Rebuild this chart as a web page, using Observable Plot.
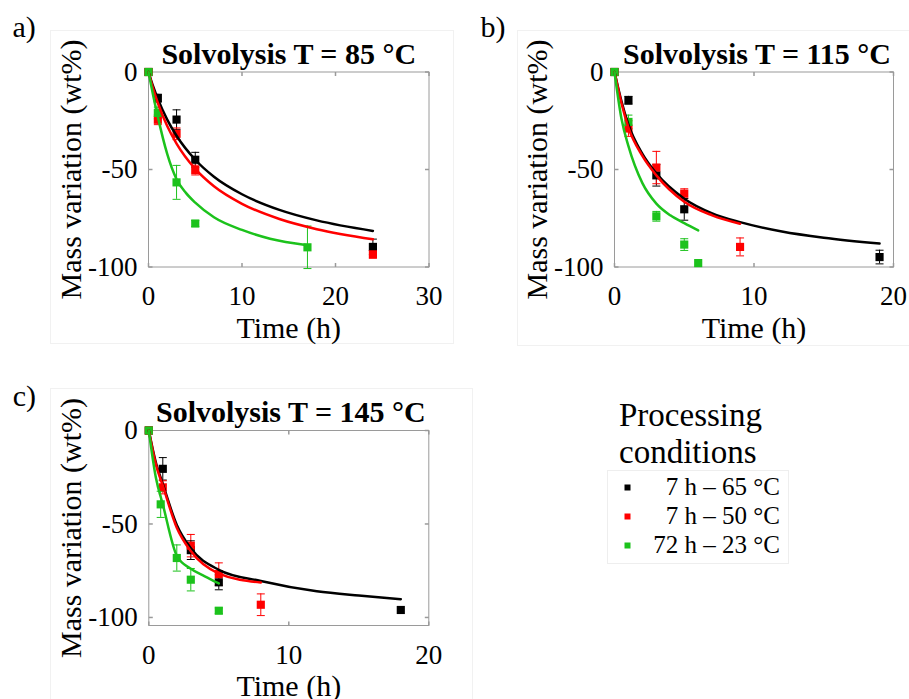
<!DOCTYPE html>
<html><head><meta charset="utf-8">
<script src="https://cdn.jsdelivr.net/npm/d3@7"></script>
<script src="https://cdn.jsdelivr.net/npm/@observablehq/plot@0.6"></script>
<style>
html,body{margin:0;padding:0;background:#fff;}
#wrap{position:relative;width:909px;height:699px;overflow:hidden;background:#fff;font-family:"Liberation Serif","Times New Roman",serif;}
#wrap > svg{position:absolute;left:0;top:0;}
#wrap svg, #wrap svg text{font-family:"Liberation Serif","Times New Roman",serif !important;}
.pbox{position:absolute;border:1px solid #f1f1f1;}
</style></head><body><div id="wrap">
<div class="pbox" style="left:50px;top:30px;width:402px;height:312px"></div>
<div class="pbox" style="left:517px;top:30px;width:400px;height:314px"></div>
<div class="pbox" style="left:50px;top:388px;width:421px;height:330px"></div>
</div>
<script>
const series = ["7 h – 65 °C", "7 h – 50 °C", "72 h – 23 °C"];
const seriesColors = ["#000000", "#ff0000", "#1cc21c"];
const titles = ["Solvolysis T = 85 °C", "Solvolysis T = 115 °C", "Solvolysis T = 145 °C"];
const letters = ["a)", "b)", "c)"];
const yTicks = [0, -50, -100];
const xTicks85 = [0, 10, 20, 30];
const xTicks115 = [0, 10, 20];
const xTicks145 = [0, 10, 20];

// ---- Panel a: 85 °C, measured points (time h, mass variation wt%, error)
const t85_65 = [0, 1, 3, 5, 24];
const m85_65 = [0, -13.4, -24.4, -45, -89.7];
const e85_65 = [0, 2, 5, 3.8, 4];
const t85_50 = [0, 1, 3, 5, 24];
const m85_50 = [0, -24.5, -31.7, -50.3, -93.5];
const e85_50 = [0, 2.5, 3, 2.5, 2];
const t85_23 = [0, 1, 3, 5, 17];
const m85_23 = [0, -21, -56.6, -77.7, -89.9];
const e85_23 = [0, 3, 8.7, 1.5, 10.9];
// fitted curves
const ft85_65 = [0, 0.5, 1, 2, 3, 5, 7, 10, 14, 18, 24];
const fm85_65 = [0, -7.4, -13.8, -24.4, -32.7, -45, -53.7, -62.7, -70.7, -76.1, -81.5];
const ft85_50 = [0, 0.5, 1, 2, 3, 5, 7, 10, 14, 18, 24];
const fm85_50 = [0, -8.6, -15.9, -27.7, -36.7, -49.7, -58.6, -67.6, -75.4, -80.6, -85.8];
const ft85_23 = [0, 0.5, 1, 2, 3, 4, 5, 7, 10, 13, 17];
const fm85_23 = [0, -12, -23, -42, -55, -62, -67, -74.5, -81, -85.5, -88.8];

// ---- Panel b: 115 °C
const t115_65 = [0, 1, 3, 5, 19];
const m115_65 = [0, -14.5, -53, -70.4, -94.9];
const e115_65 = [0, 2, 5.5, 5.6, 3.5];
const t115_50 = [0, 1, 3, 5, 9];
const m115_50 = [0, -29, -49, -62.4, -89.7];
const e115_50 = [0, 4, 8.3, 2.5, 4.6];
const t115_23 = [0, 1, 3, 5, 6];
const m115_23 = [0, -25.6, -74, -88.5, -98];
const e115_23 = [0, 3.5, 2.5, 3, 0];
const ft115_65 = [0, 0.5, 1, 2, 3, 5, 7, 9, 12, 15, 19];
const fm115_65 = [0, -15, -27, -42, -52, -65, -72.5, -77, -81.8, -85, -88];
const ft115_50 = [0, 0.5, 1, 2, 3, 5, 7, 9];
const fm115_50 = [0, -16, -28.5, -43, -53, -66.5, -73.5, -77.8];
const ft115_23 = [0, 0.5, 1, 2, 3, 4, 5, 6];
const fm115_23 = [0, -24, -38, -57, -67.5, -73.5, -77.5, -81.2];

// ---- Panel c: 145 °C
const t145_65 = [0, 1, 3, 5, 18];
const m145_65 = [0, -20.5, -64, -81.2, -96];
const e145_65 = [0, 6, 5, 4, 0];
const t145_50 = [0, 1, 3, 5, 8];
const m145_50 = [0, -30.4, -61.6, -76.8, -93.2];
const e145_50 = [0, 3.5, 6, 6, 5.8];
const t145_23 = [0, 0.85, 2, 3, 5];
const m145_23 = [0, -39.5, -68.2, -79.8, -96.4];
const e145_23 = [0, 7, 7, 6, 1.5];
const ft145_65 = [0, 0.5, 1, 2, 3, 5, 8, 12, 15, 18];
const fm145_65 = [0, -17, -28.6, -50.5, -63, -74.5, -80.5, -86, -88.3, -90.2];
const ft145_50 = [0, 0.5, 1, 2, 3, 5, 8];
const fm145_50 = [0, -18, -29.5, -52, -64.5, -76.5, -81.3];
const ft145_23 = [0, 0.5, 1, 2, 3, 4, 5];
const fm145_23 = [0, -25, -39.5, -67, -74, -78, -81.8];

function rows(ts, vs, es, s) {
  return ts.map((t, i) => ({t, v: vs[i], e: es ? es[i] : 0, s}));
}

const tickUp = {draw(c) { c.moveTo(0, 0); c.lineTo(0, -4); }};
const tickDown = {draw(c) { c.moveTo(0, 0); c.lineTo(0, 4); }};
const tickRight = {draw(c) { c.moveTo(0, 0); c.lineTo(4, 0); }};
const tickLeft = {draw(c) { c.moveTo(0, 0); c.lineTo(-4, 0); }};
const capSym = {draw(c) { c.moveTo(-4, 0); c.lineTo(4, 0); }};

function panel(cfg) {
  const pts = cfg.points;
  const errs = pts.filter(d => d.e > 0);
  const gray = "#9a9a9a";
  return Plot.plot({
    width: 909, height: 699,
    marginLeft: cfg.ml, marginRight: cfg.mr, marginTop: cfg.mt, marginBottom: cfg.mb,
    style: {background: "transparent", fontFamily: "Liberation Serif, serif", fontSize: "27px", color: "#000", overflow: "visible"},
    x: {domain: [0, cfg.xmax]},
    y: {domain: [cfg.ymin, 0]},
    color: {domain: series, range: seriesColors},
    marks: [
      Plot.frame({stroke: gray, strokeWidth: 1}),
      Plot.dot(cfg.xTicks, {x: d => d, frameAnchor: "bottom", symbol: tickUp, stroke: gray, fill: "none", r: 3}),
      Plot.dot(cfg.xTicks, {x: d => d, frameAnchor: "top", symbol: tickDown, stroke: gray, fill: "none", r: 3}),
      Plot.dot(yTicks, {y: d => d, frameAnchor: "left", symbol: tickRight, stroke: gray, fill: "none", r: 3}),
      Plot.dot(yTicks, {y: d => d, frameAnchor: "right", symbol: tickLeft, stroke: gray, fill: "none", r: 3}),
      Plot.axisX(cfg.xTicks, {tickSize: 0, tickPadding: 19, fontSize: 27, label: null, tickFormat: d => String(d)}),
      Plot.axisY(yTicks, {tickSize: 0, tickPadding: 11, fontSize: 27, label: null, tickFormat: d => String(d)}),
      Plot.ruleX(errs, {x: "t", y1: d => d.v - d.e, y2: d => d.v + d.e, stroke: "s", strokeWidth: 1}),
      Plot.dot(errs, {x: "t", y: d => d.v - d.e, symbol: capSym, stroke: "s", fill: "none", r: 3, strokeWidth: 1}),
      Plot.dot(errs, {x: "t", y: d => d.v + d.e, symbol: capSym, stroke: "s", fill: "none", r: 3, strokeWidth: 1}),
      Plot.dot(pts, {x: "t", y: "v", symbol: "square", r: 4.6, fill: "s", stroke: null}),
      Plot.line(cfg.curves, {x: "t", y: "v", z: "s", stroke: "s", strokeWidth: 2.5, curve: "monotone-x"}),
      Plot.text([cfg.title], {text: d => d, frameAnchor: "top", textAnchor: "middle", dx: cfg.tdx, dy: -18, fontWeight: "bold", fontSize: 30, lineAnchor: "middle"}),
      Plot.text([cfg.letter], {text: d => d, frameAnchor: "top-left", textAnchor: "start", dx: cfg.ldx, dy: cfg.ldy, fontSize: 30, lineAnchor: "middle"}),
      Plot.text(["Time (h)"], {text: d => d, frameAnchor: "bottom", textAnchor: "middle", dy: 61, fontSize: 30, lineAnchor: "middle"}),
      Plot.text(["Mass variation (wt%)"], {text: d => d, frameAnchor: "left", textAnchor: "middle", rotate: -90, dx: -77, fontSize: 30, lineAnchor: "middle"})
    ]
  });
}

const wrap = document.getElementById("wrap");

wrap.appendChild(panel({
  ml: 148, mr: 480.5, mt: 71.5, mb: 432.5, xmax: 30, ymin: -100, xTicks: xTicks85,
  title: titles[0], letter: letters[0], tdx: 0, ldx: -136, ldy: -45,
  points: [...rows(t85_65, m85_65, e85_65, series[0]), ...rows(t85_50, m85_50, e85_50, series[1]), ...rows(t85_23, m85_23, e85_23, series[2])],
  curves: [...rows(ft85_65, fm85_65, null, series[0]), ...rows(ft85_50, fm85_50, null, series[1]), ...rows(ft85_23, fm85_23, null, series[2])]
}));

wrap.appendChild(panel({
  ml: 614, mr: 16, mt: 71.5, mb: 432.5, xmax: 20, ymin: -100, xTicks: xTicks115,
  title: titles[1], letter: letters[1], tdx: 3, ldx: -134, ldy: -45,
  points: [...rows(t115_65, m115_65, e115_65, series[0]), ...rows(t115_50, m115_50, e115_50, series[1]), ...rows(t115_23, m115_23, e115_23, series[2])],
  curves: [...rows(ft115_65, fm115_65, null, series[0]), ...rows(ft115_50, fm115_50, null, series[1]), ...rows(ft115_23, fm115_23, null, series[2])]
}));

wrap.appendChild(panel({
  ml: 148.3, mr: 480.7, mt: 430, mb: 74, xmax: 20, ymin: -104.3, xTicks: xTicks145,
  title: titles[2], letter: letters[2], tdx: 2, ldx: -136, ldy: -34,
  points: [...rows(t145_65, m145_65, e145_65, series[0]), ...rows(t145_50, m145_50, e145_50, series[1]), ...rows(t145_23, m145_23, e145_23, series[2])],
  curves: [...rows(ft145_65, fm145_65, null, series[0]), ...rows(ft145_50, fm145_50, null, series[1]), ...rows(ft145_23, fm145_23, null, series[2])]
}));

// Legend
const lg = d3.select(wrap).append("svg").attr("width", 909).attr("height", 699)
  .style("font-family", "Liberation Serif, serif");
lg.append("text").attr("x", 619).attr("y", 426).attr("font-size", 33).text("Processing");
lg.append("text").attr("x", 619).attr("y", 463).attr("font-size", 33).text("conditions");
lg.append("rect").attr("x", 607.5).attr("y", 470.5).attr("width", 181).attr("height", 93)
  .attr("fill", "none").attr("stroke", "#eeeeee");
series.forEach((s, i) => {
  lg.append("rect").attr("x", 624.5).attr("y", 484.5 + 29 * i).attr("width", 6).attr("height", 6).attr("fill", seriesColors[i]);
  lg.append("text").attr("x", 780).attr("y", 495 + 29 * i).attr("text-anchor", "end").attr("font-size", 25).text(s);
});
</script></body></html>
